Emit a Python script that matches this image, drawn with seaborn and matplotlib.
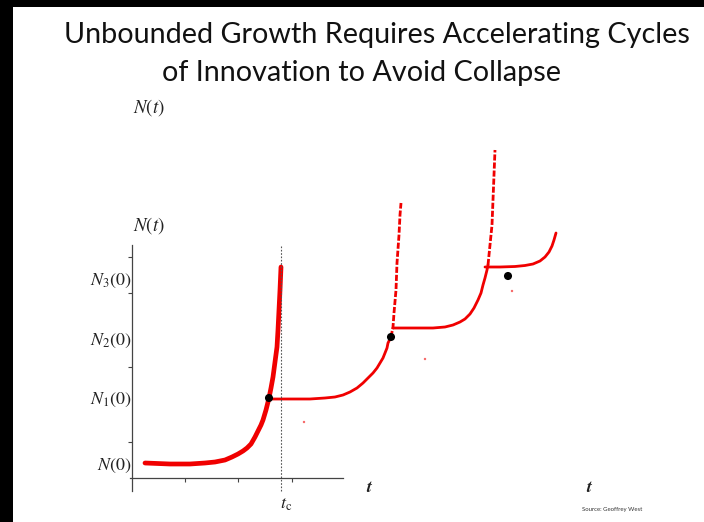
import matplotlib
matplotlib.use("Agg")
import matplotlib.pyplot as plt
import seaborn as sns
import pandas as pd
from matplotlib.patches import Rectangle

# ---- data (abstract t / N units) ----
c1_t = [13, 38, 58, 73, 83, 93, 100, 106, 111, 115, 119, 123, 126, 129, 131, 134, 137, 139, 141, 143, 145, 146, 147, 148, 149]
c1_n = [15, 14, 14, 15, 16, 18, 21, 24, 27, 30, 34, 41, 47, 53, 58, 68, 80, 90, 101, 116, 131, 148, 168, 188, 211]

c2_t = [137, 141, 158, 178, 193, 203, 211, 218, 225, 231, 236, 241, 245, 248, 251, 253, 255, 256, 259]
c2_n = [80, 79, 79, 79, 80, 81, 83, 86, 90, 95, 100, 105, 110, 115, 120, 125, 130, 135, 141]
c2d_t = [259, 261, 262, 264, 265, 267, 268, 269]
c2d_n = [141, 151, 165, 188, 215, 243, 263, 275]

c3_t = [261, 278, 301, 313, 321, 328, 333, 338, 342, 346, 349, 351, 353, 355, 356]
c3_n = [150, 150, 150, 151, 153, 156, 159, 164, 170, 178, 185, 193, 200, 208, 213]
c3d_t = [356, 358, 360, 361, 362, 363]
c3d_n = [213, 233, 253, 278, 303, 328]

c4_t = [353, 368, 383, 393, 401, 408, 413, 417, 420, 422, 424]
c4_n = [211, 211, 211.5, 212.5, 214, 217, 221, 226, 232, 238, 245]

dot_t = [137, 259, 376]
dot_n = [80, 141, 202]
speck_t = [172, 293, 380]
speck_n = [56, 119, 187]

y_label_pos = [15, 81, 140, 200]
y_labels = [r"$N(0)$", r"$N_1(0)$", r"$N_2(0)$", r"$N_3(0)$"]
y_minor = [36, 111, 185, 221]
x_ticks = [53, 106, 160]
t_c = 149

W, H = 704, 522
sns.set_theme(style="white")
plt.rcParams["mathtext.fontset"] = "stix"
plt.rcParams["font.family"] = ["Lato", "DejaVu Sans"]

fig = plt.figure(figsize=(W / 100, H / 100), dpi=100)
fig.patch.set_facecolor("white")
fig.patches.append(Rectangle((0, 0), 13 / W, 1, transform=fig.transFigure,
                             facecolor="black", edgecolor="none", zorder=-1))
fig.patches.append(Rectangle((0, 1 - 7 / H), 1, 7 / H, transform=fig.transFigure,
                             facecolor="black", edgecolor="none", zorder=-1))

def fx(px):
    return px / W

def fy(py):
    return 1 - py / H

ax = fig.add_axes([130 / W, 31 / H, 213 / W, 246 / H])
ax.set_facecolor("none")

red = "#f00000"

def line(t, n, lw, ls="-"):
    df = pd.DataFrame({"t": t, "N": n})
    sns.lineplot(data=df, x="t", y="N", sort=False, estimator=None, color=red,
                 linewidth=lw, linestyle=ls, ax=ax)
    ln = ax.lines[-1]
    ln.set_clip_on(False)
    ln.set_solid_capstyle("round")
    ln.set_solid_joinstyle("round")

line(c1_t, c1_n, 3.4)
line(c2_t, c2_n, 2.0)
line(c2d_t, c2d_n, 2.0, (0, (2.2, 0.7)))
line(c3_t, c3_n, 2.0)
line(c3d_t, c3d_n, 2.0, (0, (2.2, 0.7)))
line(c4_t, c4_n, 2.0)

sns.scatterplot(x=dot_t, y=dot_n, color="black", s=34, edgecolor="none", ax=ax, zorder=5)
for coll in ax.collections:
    coll.set_clip_on(False)
sns.scatterplot(x=speck_t, y=speck_n, color=red, s=3, edgecolor="none", alpha=0.6, ax=ax)
ax.collections[-1].set_clip_on(False)

ax.axvline(t_c, ymin=0, ymax=1, color="#555555", linestyle=(0, (1.5, 1.5)), linewidth=0.8)
ax.lines[-1].set_clip_on(False)

ax.set_xlim(-2, 211)
ax.set_ylim(-13, 233)
for s in ["top", "right"]:
    ax.spines[s].set_visible(False)
ax.spines["left"].set_position(("data", 0))
ax.spines["bottom"].set_position(("data", 0))
for s in ["left", "bottom"]:
    ax.spines[s].set_color("#444444")
    ax.spines[s].set_linewidth(0.9)

ax.set_yticks(y_label_pos)
ax.set_yticklabels(y_labels)
ax.set_yticks(y_minor, minor=True)
ax.tick_params(axis="y", which="major", length=0, pad=0, labelsize=13, labelcolor="#222222")
ax.tick_params(axis="y", which="minor", left=True, length=3, width=0.8, color="#444444", direction="out")
ax.set_xticks(x_ticks)
ax.set_xticklabels([])
ax.tick_params(axis="x", which="major", bottom=True, length=3, width=0.8, color="#444444", direction="out")
ax.set_xlabel("")
ax.set_ylabel("")

# texts
fig.text(fx(377), fy(35), "Unbounded Growth Requires Accelerating Cycles", ha="center", va="center",
         fontsize=20.7, color="#111111")
fig.text(fx(361), fy(73), "of Innovation to Avoid Collapse", ha="center", va="center",
         fontsize=20.7, color="#111111")
fig.text(fx(149), fy(108), r"$N(t)$", ha="center", va="center", fontsize=13.5, color="#222222")
fig.text(fx(149), fy(226), r"$N(t)$", ha="center", va="center", fontsize=13.5, color="#222222")
fig.text(fx(370), fy(487), r"$\boldsymbol{t}$", ha="center", va="center", fontsize=13, color="#222222")
fig.text(fx(590), fy(487), r"$\boldsymbol{t}$", ha="center", va="center", fontsize=13, color="#222222")
fig.text(fx(286), fy(505), r"$t_{\rm c}$", ha="center", va="center", fontsize=13, color="#222222")
fig.text(fx(612), fy(510), "Source: Geoffrey West", ha="center", va="center", fontsize=4.3,
         color="#333333")

fig.savefig("out.png", dpi=100)
